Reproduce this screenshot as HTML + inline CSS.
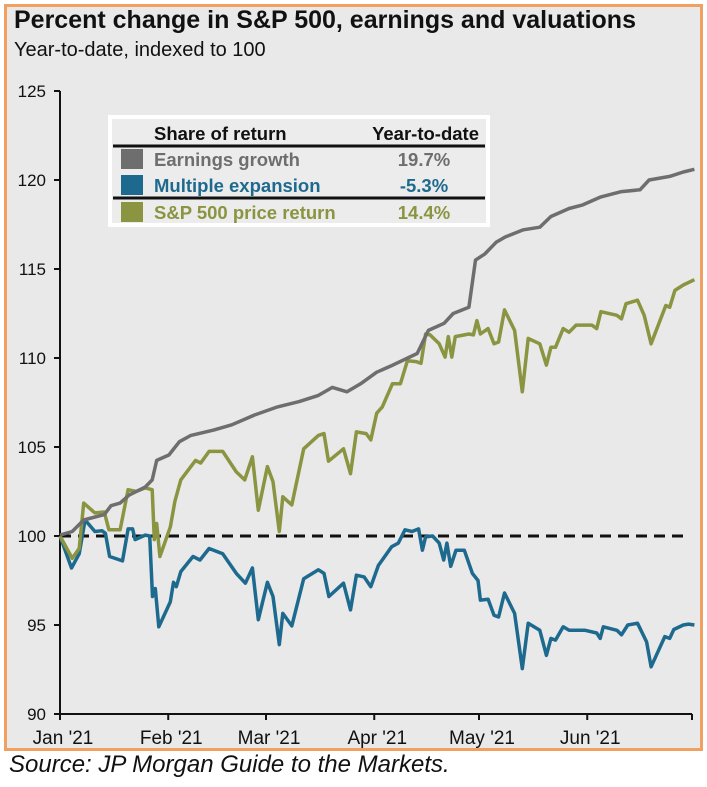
<!DOCTYPE html>
<html><head><meta charset="utf-8">
<style>
html,body{margin:0;padding:0;background:#fff;}
body{width:707px;height:787px;position:relative;font-family:"Liberation Sans",Arial,sans-serif;overflow:hidden;}
#panel{position:absolute;left:4px;top:4px;width:693px;height:741px;border:3px solid #f0a060;background:#e9e9e9;}
#title{position:absolute;left:14px;top:6px;font-size:25px;font-weight:bold;color:#111;white-space:nowrap;}
#subtitle{position:absolute;left:14px;top:39px;font-size:20px;color:#111;white-space:nowrap;}
#source{position:absolute;left:9px;top:751px;font-size:24px;font-style:italic;color:#111;white-space:nowrap;}
svg{position:absolute;left:0;top:0;}
</style></head>
<body>
<div id="panel"></div>
<div id="title">Percent change in S&amp;P 500, earnings and valuations</div>
<div id="subtitle">Year-to-date, indexed to 100</div>
<div id="source">Source: JP Morgan Guide to the Markets.</div>
<svg id="chart" width="707" height="787"></svg>
<script>
const yTicks=[90,95,100,105,110,115,120,125];
const monthLabels=["Jan '21","Feb '21","Mar '21","Apr '21","May '21","Jun '21"];
const monthDays=[0,31,59,90,120,151,181];
const earningsDays=[0,3.5,6.8,12.7,14.6,17.2,19.8,24.4,26.4,27.7,31.2,34.2,37.5,44,49.2,55.7,62.3,68.5,74,78,82.2,86.1,90.7,95.3,102.3,105.5,110,112.6,117.1,119,121.7,124.9,127.5,132.7,137.4,140.6,145.8,149.7,154.9,160.8,166.1,168.7,174.6,178.5,181.7];
const earningsVals=[100.05,100.25,100.9,101.2,101.7,101.85,102.3,102.75,103.15,104.25,104.55,105.3,105.65,105.95,106.25,106.8,107.25,107.55,107.9,108.35,108.1,108.55,109.2,109.6,110.25,111.55,111.95,112.5,112.85,115.5,115.85,116.5,116.8,117.2,117.35,117.95,118.4,118.6,119.05,119.35,119.45,120.0,120.2,120.45,120.6];
const multipleDays=[0,3.3,5.5,7.2,10,12,13,14.2,17.9,19.5,20.8,21.5,24.4,25.7,26.5,27.3,28.3,31.6,32.5,33.3,34.6,38.1,40.1,42.7,46.6,50.5,53.1,55.1,56.8,59.4,61,62.8,63.8,66.4,69.8,74,75.6,77,81.2,83.2,84.9,87.1,89,91.2,95,96.9,98.8,100.8,102.7,103.8,104.7,106.7,108.6,109.9,110.8,111.9,113.4,115.8,118.1,119.7,120.4,122.6,124.3,125.6,127.3,130.2,132.4,134.1,137.4,139.3,140.6,141.9,144.1,145.8,150.4,153.7,154.7,155.6,159.5,160.8,162.6,165.4,168,169.3,173.2,174.6,175.8,178.5,180,181.7];
const multipleVals=[100,98.2,99.0,100.9,100.25,100.3,100.15,98.85,98.6,100.4,100.4,99.8,100.05,100,96.6,97.05,94.9,96.3,97.4,97.15,98.0,98.85,98.65,99.3,99.0,97.9,97.35,98.2,95.3,97.4,96.6,93.9,95.65,94.95,97.6,98.1,97.9,96.6,97.35,95.85,97.8,97.7,97.15,98.35,99.4,99.6,100.35,100.25,100.4,99.2,99.95,100,99.6,98.65,99.6,98.3,99.2,99.2,97.9,97.5,96.4,96.45,95.55,95.45,96.8,95.65,92.55,95.1,94.7,93.3,94.25,94.15,94.9,94.7,94.7,94.55,94.25,94.9,94.7,94.45,95.0,95.1,94.05,92.65,94.35,94.25,94.75,95.0,95.05,95.0];
const spxDays=[0,3.5,5.5,6.8,10,12.7,14,17.2,19.5,21.8,24.4,26.4,27,27.7,28.6,31.6,32.9,34.6,38.8,40.3,42.7,46.6,50.5,52.9,55.1,56.8,59.4,61,62.8,63.8,66.4,69.8,74,75.6,76.9,81.2,83.2,84.9,87.7,89,90.7,92.3,95.2,97.5,99.5,102,103.4,104.7,106,108.6,110.3,111.2,112.2,113.2,117.1,118.4,119.4,120.4,122.6,124.3,125.6,127.3,130.2,132.4,134.1,137.4,139.3,140.6,141.9,144.1,145.8,147.8,152.3,153.7,154.9,159.5,160.8,162.1,165.4,167.3,169.3,173.5,174.6,176.1,178.5,181.7];
const spxVals=[100,98.75,99.3,101.85,101.3,101.35,100.35,100.35,102.6,102.5,102.7,102.6,99.8,100.7,98.85,100.5,101.95,103.15,104.25,104.1,104.75,104.75,103.6,103.15,104.45,101.45,103.9,103.05,100.25,102.2,101.75,104.9,105.65,105.75,104.2,104.9,103.5,105.85,105.75,105.4,106.9,107.25,108.55,108.55,109.85,109.8,109.7,111.35,111.3,110.8,110.05,111.2,110.05,111.2,111.35,111.3,112.1,111.35,111.65,110.8,110.9,112.7,111.55,108.1,111.1,110.8,109.6,110.6,110.6,111.65,111.45,111.85,111.85,111.65,112.6,112.4,112.2,113.05,113.25,112.4,110.8,112.95,112.85,113.8,114.1,114.4];

const NS="http://www.w3.org/2000/svg";
const svg=document.getElementById('chart');
const X0=60,X1=692,Y0=714,Y1=91;
function xs(d){return X0+(d/181)*(X1-X0);}
function ys(v){return Y0-(v-90)/(125-90)*(Y0-Y1);}
function mk(tag,attrs){const e=document.createElementNS(NS,tag);for(const k in attrs)e.setAttribute(k,attrs[k]);svg.appendChild(e);return e;}

let ax=mk('line',{x1:X0,y1:Y1,x2:X0,y2:Y0,stroke:'#111','stroke-width':2});


let bx=mk('line',{x1:X0,y1:Y0,x2:X1,y2:Y0,stroke:'#111','stroke-width':2});


yTicks.forEach(v=>{
  const t=mk('line',{x1:X0-6,y1:ys(v),x2:X0,y2:ys(v),stroke:'#111','stroke-width':2});
  
  
  const l=mk('text',{x:X0-14,y:ys(v)+6,'text-anchor':'end','font-size':17,fill:'#111','font-family':'Liberation Sans, Arial, sans-serif'});
  l.textContent=v;
  
  
});
monthDays.forEach((d,i)=>{
  const t=mk('line',{x1:xs(d),y1:Y0,x2:xs(d),y2:Y0+6,stroke:'#111','stroke-width':2});
  
  
  if(i<monthLabels.length){
    const l=mk('text',{x:xs(d)+3,y:Y0+30,'text-anchor':'middle','font-size':19,fill:'#111','font-family':'Liberation Sans, Arial, sans-serif'});
    l.textContent=monthLabels[i];
    
    
  }
});
let bl=mk('line',{x1:X0,y1:ys(100),x2:xs(180),y2:ys(100),stroke:'#111','stroke-width':3,'stroke-dasharray':'11,7'});



function series(days,vals,color,name){
  const pts=days.map((d,i)=>xs(d).toFixed(1)+','+ys(vals[i]).toFixed(1)).join(' ');
  const p=mk('polyline',{points:pts,fill:'none',stroke:color,'stroke-width':3.5,'stroke-linejoin':'round'});
  
  
}
series(multipleDays,multipleVals,'#1e6a8f','multiple-expansion-line');
series(spxDays,spxVals,'#8b9440','sp500-price-return-line');
series(earningsDays,earningsVals,'#6e6e6e','earnings-growth-line');

let lb=mk('rect',{x:110,y:117,width:378,height:108,fill:'#ececec',stroke:'#fff','stroke-width':4});


function txt(x,y,s,color,anchor,name){
  const t=mk('text',{x:x,y:y,'font-size':18.5,'font-weight':'bold',fill:color,'text-anchor':anchor,'font-family':'Liberation Sans, Arial, sans-serif'});
  t.textContent=s;
  
  
}
txt(154,140,'Share of return','#111','start','legend-header-share');
txt(479,140,'Year-to-date','#111','end','legend-header-ytd');
let r1=mk('line',{x1:113,y1:146,x2:485,y2:146,stroke:'#111','stroke-width':3});


let r2=mk('line',{x1:113,y1:198,x2:485,y2:198,stroke:'#111','stroke-width':3});


const rows=[['Earnings growth','19.7%','#6e6e6e',166,'legend-entry-earnings'],['Multiple expansion','-5.3%','#1e6a8f',192,'legend-entry-multiple'],['S&P 500 price return','14.4%','#8b9440',219,'legend-entry-sp500']];
rows.forEach(r=>{
  const s=mk('rect',{x:121,y:r[3]-17,width:22,height:20,fill:r[2]});
  
  
  txt(154,r[3],r[0],r[2],'start',r[4]+'-label');
  txt(424,r[3],r[1],r[2],'middle',r[4]+'-value');
});
</script>
</body></html>
